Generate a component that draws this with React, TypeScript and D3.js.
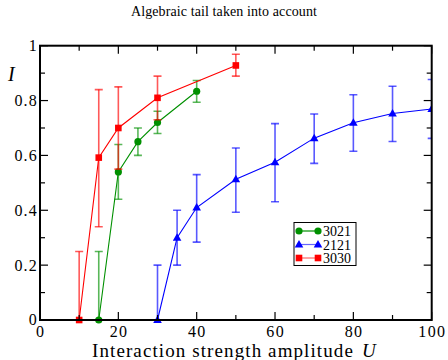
import React from "react";
import * as d3 from "d3";

const uGreen = [15, 20, 25, 30, 40];
const vGreen = [0, 0.54, 0.65, 0.72, 0.834];
const loGreen = [0, 0.44, 0.6, 0.68, 0.794];
const hiGreen = [0.25, 0.64, 0.7, 0.761, 0.873];

const uBlue = [30, 35, 40, 50, 60, 70, 80, 90, 100];
const vBlue = [0, 0.3, 0.41, 0.513, 0.575, 0.663, 0.719, 0.753, 0.769];
const loBlue = [0, 0.2, 0.284, 0.393, 0.431, 0.571, 0.615, 0.651, 0.662];
const hiBlue = [0.2, 0.4, 0.53, 0.627, 0.716, 0.751, 0.821, 0.852, 0.877];

const uRed = [10, 15, 20, 30, 50];
const vRed = [0, 0.592, 0.7, 0.81, 0.928];
const loRed = [0, 0.34, 0.55, 0.73, 0.889];
const hiRed = [0.25, 0.84, 0.85, 0.889, 0.969];

const xTicks = [0, 20, 40, 60, 80, 100];
const xMinor = [10, 30, 50, 70, 90];
const yTicks = [0, 0.2, 0.4, 0.6, 0.8, 1];
const yMinor = [0.1, 0.3, 0.5, 0.7, 0.9];

const seriesNames = ["3021", "2121", "3030"];

const W = 448, H = 360;
const L = 40, R = 431.7, T = 45.7, B = 320;
const font = "'Liberation Serif', 'DejaVu Serif', serif";

export default function App() {
  const x = d3.scaleLinear().domain([0, 100]).range([L, R]);
  const y = d3.scaleLinear().domain([0, 1]).range([B, T]);
  const line = d3.line<[number, number]>().x(d => x(d[0])).y(d => y(d[1]));

  const series = [
    { name: seriesNames[0], u: uGreen, v: vGreen, lo: loGreen, hi: hiGreen, color: "#009000", shape: "circle" },
    { name: seriesNames[1], u: uBlue, v: vBlue, lo: loBlue, hi: hiBlue, color: "#0000ff", shape: "tri" },
    { name: seriesNames[2], u: uRed, v: vRed, lo: loRed, hi: hiRed, color: "#ff0000", shape: "square" },
  ];

  const marker = (shape: string, cx: number, cy: number, color: string, key?: any) => {
    if (shape === "circle") return <circle key={key} cx={cx} cy={cy} r={3.6} fill={color} />;
    if (shape === "square") return <rect key={key} x={cx - 3.3} y={cy - 3.3} width={6.6} height={6.6} fill={color} />;
    return <path key={key} d={`M${cx},${cy - 4.5}L${cx + 4.3},${cy + 3}L${cx - 4.3},${cy + 3}Z`} fill={color} />;
  };

  return (
    <svg width={W} height={H} style={{ position: "absolute", left: 0, top: 0, background: "#fff" }}>
      <rect width={W} height={H} fill="#fff" />
      <text x={131} y={15.5} fontFamily={font} fontSize={14} letterSpacing={0.1}>Algebraic tail taken into account</text>

      <defs>
        <clipPath id="pc"><rect x={L} y={T - 10} width={R - L} height={B - T + 20} /></clipPath>
      </defs>

      {series.map(s => (
        <g key={s.name} clipPath="url(#pc)">
          {s.u.map((u, i) => (
            <g key={i} stroke={s.color} strokeOpacity={0.65} strokeWidth={1.6}>
              <line x1={x(u)} x2={x(u)} y1={y(s.lo[i])} y2={y(s.hi[i])} />
              <line x1={x(u) - 4} x2={x(u) + 4} y1={y(s.hi[i])} y2={y(s.hi[i])} />
              <line x1={x(u) - 4} x2={x(u) + 4} y1={y(s.lo[i])} y2={y(s.lo[i])} />
            </g>
          ))}
          <path d={line(s.u.map((u, i) => [u, s.v[i]] as [number, number])) || ""} fill="none" stroke={s.color} strokeWidth={1.1} />
          {s.u.map((u, i) => marker(s.shape, x(u), y(s.v[i]), s.color, i))}
        </g>
      ))}

      {/* ticks */}
      <g stroke="#000" strokeWidth={1.2}>
        {xTicks.map(t => (
          <g key={"xt" + t}>
            <line x1={x(t)} x2={x(t)} y1={B} y2={B - 8} />
            <line x1={x(t)} x2={x(t)} y1={T} y2={T + 8} />
          </g>
        ))}
        {xMinor.map(t => (
          <g key={"xm" + t}>
            <line x1={x(t)} x2={x(t)} y1={B} y2={B - 5} />
            <line x1={x(t)} x2={x(t)} y1={T} y2={T + 5} />
          </g>
        ))}
        {yTicks.map(t => (
          <g key={"yt" + t}>
            <line x1={L} x2={L + 8} y1={y(t)} y2={y(t)} />
            <line x1={R} x2={R - 8} y1={y(t)} y2={y(t)} />
          </g>
        ))}
        {yMinor.map(t => (
          <g key={"ym" + t}>
            <line x1={L} x2={L + 5} y1={y(t)} y2={y(t)} />
            <line x1={R} x2={R - 5} y1={y(t)} y2={y(t)} />
          </g>
        ))}
      </g>
      <rect x={L} y={T} width={R - L} height={B - T} fill="none" stroke="#000" strokeWidth={2} />

      {xTicks.map(t => (
        <text key={"xl" + t} x={x(t) + 0.7} y={336.5} textAnchor="middle" fontFamily={font} fontSize={16} letterSpacing={1.4}>{t}</text>
      ))}
      {yTicks.map(t => (
        <text key={"yl" + t} x={38} y={y(t)} dy="0.34em" textAnchor="end" fontFamily={font} fontSize={16} letterSpacing={1.2}>{t === 0 || t === 1 ? String(t) : d3.format(".1f")(t)}</text>
      ))}

      <text x={8} y={81} fontFamily={font} fontSize={20} fontStyle="italic">I</text>
      <text x={92} y={357} fontFamily={font} fontSize={19} letterSpacing={1.1}>
        Interaction strength amplitude<tspan dx={8} fontStyle="italic">U</tspan>
      </text>

      {/* legend */}
      <rect x={294} y={222.5} width={62} height={43} fill="#fff" stroke="#000" strokeWidth={1} />
      {series.map((s, i) => {
        const ly = 231 + i * 13.5;
        return (
          <g key={"lg" + s.name}>
            <line x1={299} x2={318} y1={ly} y2={ly} stroke={s.color} strokeWidth={1.2} strokeOpacity={s.shape === "circle" ? 1 : 0.6} />
            {marker(s.shape, 299, ly, s.color)}
            {marker(s.shape, 318, ly, s.color)}
            <text x={323} y={ly} dy="0.36em" fontFamily={font} fontSize={14}>{s.name}</text>
          </g>
        );
      })}
    </svg>
  );
}
